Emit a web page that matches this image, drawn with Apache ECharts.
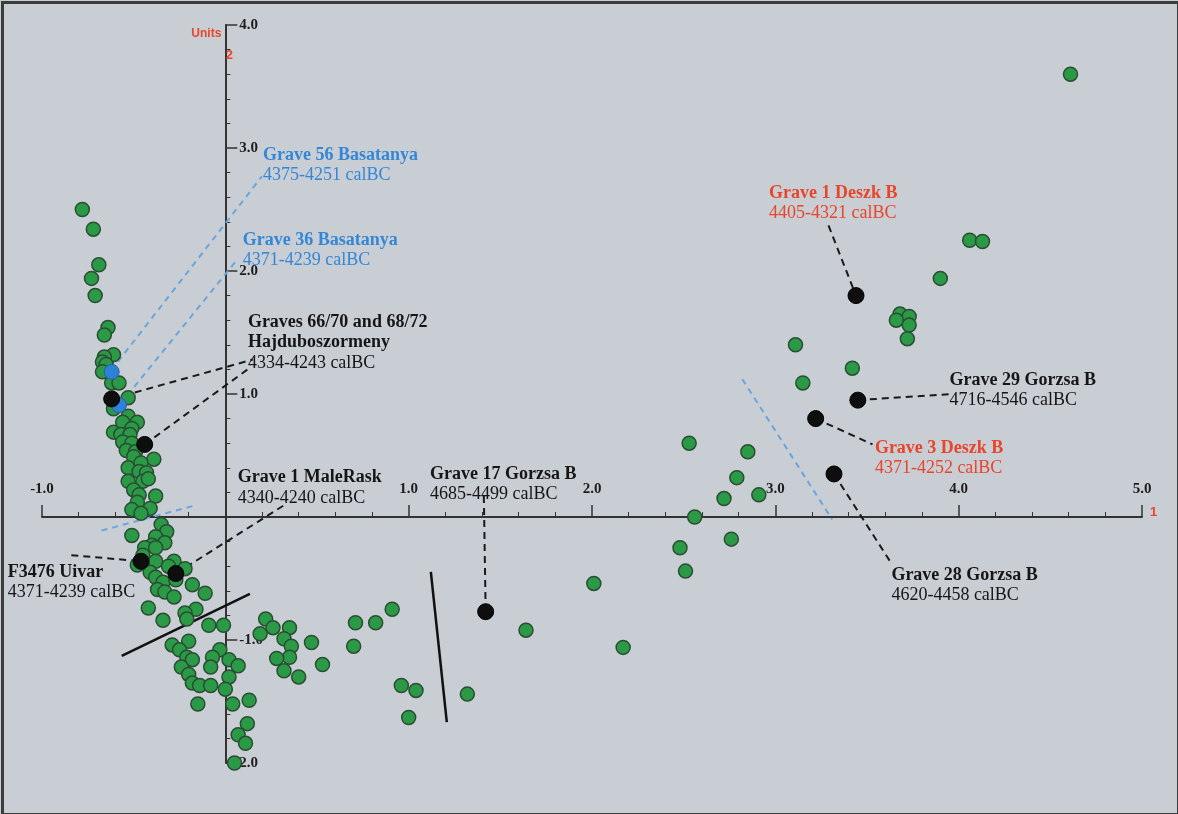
<!DOCTYPE html>
<html>
<head>
<meta charset="utf-8">
<script src="https://cdn.jsdelivr.net/npm/echarts@6/dist/echarts.min.js"></script>
<style>
html,body{margin:0;padding:0;background:#c9cdd4;}
#chart{width:1178px;height:814px;}
</style>
</head>
<body>
<div id="chart"></div>
<script>
// ---- tick labels ----
const xTickValues = [-1, 1, 2, 3, 4, 5];
const xTickLabels = ['-1.0', '1.0', '2.0', '3.0', '4.0', '5.0'];
const yTickValues = [4, 3, 2, 1, -1, -2];
const yTickLabels = ['4.0', '3.0', '2.0', '1.0', '-1.0', '2.0'];
const xAxisName = '1';
const yAxisName = 'Units';
const yAxisNumber = '2';

// ---- points (dimension 1, dimension 2) ----
const greenPoints = [
  [-0.78,2.50],[-0.72,2.34],[-0.69,2.05],[-0.73,1.94],[-0.71,1.80],[-0.64,1.54],[-0.66,1.48],
  [-0.61,1.32],[-0.66,1.30],[-0.67,1.26],[-0.65,1.24],[-0.67,1.18],[-0.62,1.09],[-0.58,1.09],
  [-0.61,0.88],[-0.53,0.97],[-0.53,0.82],[-0.56,0.77],[-0.48,0.77],[-0.61,0.69],[-0.51,0.72],
  [-0.57,0.67],[-0.52,0.67],[-0.56,0.61],[-0.51,0.60],[-0.54,0.54],[-0.49,0.53],[-0.50,0.49],
  [-0.39,0.47],[-0.53,0.40],[-0.46,0.44],[-0.47,0.37],[-0.43,0.36],[-0.53,0.29],[-0.45,0.29],
  [-0.42,0.31],[-0.50,0.22],[-0.47,0.18],[-0.38,0.17],[-0.48,0.12],[-0.41,0.07],[-0.51,0.06],
  [-0.46,0.03],[-0.35,-0.06],[-0.32,-0.12],[-0.51,-0.15],[-0.38,-0.16],[-0.33,-0.21],[-0.40,-0.23],
  [-0.44,-0.25],[-0.38,-0.25],[-0.45,-0.31],[-0.48,-0.39],[-0.38,-0.36],[-0.41,-0.45],[-0.28,-0.36],
  [-0.22,-0.42],[-0.38,-0.49],[-0.31,-0.40],[-0.34,-0.53],[-0.27,-0.51],[-0.18,-0.55],[-0.37,-0.59],
  [-0.33,-0.61],[-0.28,-0.65],[-0.11,-0.62],[-0.42,-0.74],[-0.16,-0.75],[-0.22,-0.78],[-0.34,-0.84],
  [-0.21,-0.83],[-0.09,-0.88],[-0.01,-0.88],[0.22,-0.83],[0.26,-0.90],[0.19,-0.95],[-0.29,-1.04],
  [-0.20,-1.01],[-0.25,-1.08],[-0.21,-1.14],[-0.18,-1.16],[-0.03,-1.08],[-0.07,-1.14],[0.02,-1.16],
  [0.07,-1.21],[-0.24,-1.22],[-0.08,-1.22],[-0.20,-1.28],[0.02,-1.30],[-0.18,-1.35],[-0.14,-1.37],
  [-0.08,-1.37],[0.00,-1.40],[-0.15,-1.52],[0.04,-1.52],[0.13,-1.49],[0.12,-1.68],[0.07,-1.77],
  [0.11,-1.84],[0.05,-2.00],
  [0.35,-0.90],[0.32,-0.99],[0.36,-1.05],[0.35,-1.14],[0.28,-1.15],[0.47,-1.02],[0.32,-1.25],
  [0.40,-1.30],[0.53,-1.20],[0.71,-0.86],[0.82,-0.86],[0.91,-0.75],[0.70,-1.05],[0.96,-1.37],
  [1.04,-1.41],[1.00,-1.63],[1.32,-1.44],
  [1.64,-0.92],[2.01,-0.54],[2.17,-1.06],
  [2.53,0.60],[2.85,0.53],[2.79,0.32],[2.72,0.15],[2.91,0.18],[2.56,0.00],[2.76,-0.18],[2.48,-0.25],
  [2.51,-0.44],[3.11,1.40],[3.15,1.09],[3.42,1.21],[3.68,1.65],[3.73,1.63],[3.66,1.60],[3.73,1.56],
  [3.72,1.45],[3.90,1.94],[4.06,2.25],[4.13,2.24],[4.61,3.60]
];
const bluePoints = [[-0.62,1.18],[-0.58,0.91]];
const blackPoints = [
  [-0.62,0.96],[-0.44,0.59],[-0.46,-0.36],[-0.27,-0.46],[1.42,-0.77],
  [3.44,1.80],[3.45,0.95],[3.22,0.80],[3.32,0.35]
];

// ---- annotation lines (segments in data units) ----
const blackDashedLines = [
  [[-0.62,0.96],[0.15,1.28]],
  [[-0.44,0.59],[0.14,1.22]],
  [[-0.27,-0.46],[0.325,0.10]],
  [[-0.84,-0.31],[-0.46,-0.36]],
  [[1.41,0.17],[1.42,-0.77]],
  [[3.29,2.37],[3.44,1.80]],
  [[3.45,0.95],[3.96,1.00]],
  [[3.22,0.80],[3.53,0.59]],
  [[3.32,0.35],[3.63,-0.37]]
];
const blueDashedLines = [
  [[-0.66,1.12],[0.20,2.77]],
  [[-0.61,0.85],[0.063,2.09]],
  [[-0.675,-0.11],[-0.176,0.09]],
  [[2.82,1.12],[3.31,-0.02]]
];
const solidLines = [
  [[-0.565,-1.13],[0.134,-0.626]],
  [[1.121,-0.447],[1.208,-1.667]]
];

// ---- annotation texts ----
const labelTitles = [
  'Grave 56 Basatanya', 'Grave 36 Basatanya', 'Graves 66/70 and 68/72\nHajduboszormeny',
  'Grave 1 MaleRask', 'Grave 17 Gorzsa B', 'F3476 Uivar', 'Grave 1 Deszk B',
  'Grave 29 Gorzsa B', 'Grave 3 Deszk B', 'Grave 28 Gorzsa B'
];
const labelDates = [
  '4375-4251 calBC', '4371-4239 calBC', '4334-4243 calBC', '4340-4240 calBC', '4685-4499 calBC',
  '4371-4239 calBC', '4405-4321 calBC', '4716-4546 calBC', '4371-4252 calBC', '4620-4458 calBC'
];
const labelGroups = ['blue','blue','black','black','black','black','red','black','red','black'];
const labelAnchors = [
  [0.205,3.02],[0.095,2.33],[0.123,1.66],[0.068,0.40],[1.116,0.43],
  [-1.187,-0.37],[2.965,2.715],[3.95,1.195],[3.543,0.64],[3.633,-0.39]
];

// ---- rendering ----
const colorMap = {black:'#161616', red:'#e8452a', blue:'#3587d6'};
const serif = '"Liberation Serif","Times New Roman",serif';
const sans = '"Liberation Sans",Arial,sans-serif';
const axisColor = '#333333';

const X_MIN = -1, X_MAX = 5, Y_MIN = -2, Y_MAX = 4;
const GRID = {left: 42, top: 25, width: 1100, height: 738};
// place the axes through the origin (shift them inward from the grid edges)
const xAxisOffset = -GRID.height * (0 - Y_MIN) / (Y_MAX - Y_MIN);
const yAxisOffset = -GRID.width * (0 - X_MIN) / (X_MAX - X_MIN);

function tickFormatter(values, labels) {
  return function (v) {
    const i = values.findIndex(t => Math.abs(t - v) < 1e-9);
    return i >= 0 ? labels[i] : '';
  };
}

const series = [];
function addSegments(list, style) {
  list.forEach(seg => {
    series.push({
      type: 'line', data: seg, symbol: 'none', silent: true, animation: false,
      lineStyle: style, z: 2
    });
  });
}
addSegments(blueDashedLines, {color:'#6aa5de', width:2, type:[6,5]});
addSegments(blackDashedLines, {color:'#1a1a1a', width:2, type:[7,5]});
addSegments(solidLines, {color:'#111', width:2.5, type:'solid'});

series.push({
  type:'scatter', data: greenPoints, symbolSize: 14, z: 3,
  itemStyle:{color:'#2a9a47', borderColor:'#2b4d33', borderWidth:1.5, opacity: 1}
});
series.push({
  type:'scatter', data: bluePoints, symbolSize: 15, z: 4,
  itemStyle:{color:'#2c82d8', borderColor:'#2b5f99', borderWidth:1, opacity: 1}
});
series.push({
  type:'scatter', data: blackPoints, symbolSize: 16, z: 5,
  itemStyle:{color:'#0e0e0e', borderColor:'#000', borderWidth:1, opacity: 1}
});

const annData = labelTitles.map((t, i) => {
  const c = colorMap[labelGroups[i]];
  const txt = t.split('\n').map(s => '{t|' + s + '}').join('\n') + '\n{d|' + labelDates[i] + '}';
  return {
    value: labelAnchors[i],
    label: {
      show: true, position: [0, 0], align: 'left', verticalAlign: 'top',
      formatter: txt, color: c,
      rich: {
        t: {fontFamily: serif, fontWeight: 'bold', fontSize: 18, lineHeight: 20, color: c},
        d: {fontFamily: serif, fontWeight: 'normal', fontSize: 18, lineHeight: 20, color: c}
      }
    }
  };
});
annData.push({
  value: [0.022, 3.756],
  label: {show:true, position:[0,0], align:'center', verticalAlign:'middle', formatter: yAxisNumber,
    color:'#e8452a', fontFamily: sans, fontWeight:'bold', fontSize: 13}
});
series.push({
  type:'scatter', data: annData, symbolSize: 0, clip: false, silent: true, z: 6,
  itemStyle: {opacity: 1}
});

const chart = echarts.init(document.getElementById('chart'), null, {renderer:'canvas'});
chart.setOption({
  animation: false,
  backgroundColor: '#c9cdd4',
  grid: Object.assign({containLabel: false}, GRID),
  xAxis: {
    type: 'value', min: X_MIN, max: X_MAX, interval: 1,
    position: 'bottom', offset: xAxisOffset,
    axisLine: {onZero: false, lineStyle: {color: axisColor, width: 2}},
    axisTick: {inside: true, length: 12, lineStyle: {color: axisColor, width: 1.5}},
    minorTick: {show: true, splitNumber: 5, length: 5, lineStyle: {color: axisColor, width: 1}},
    splitLine: {show: false},
    axisLabel: {inside: true, margin: 20, formatter: tickFormatter(xTickValues, xTickLabels),
      fontFamily: serif, fontWeight: 'bold', fontSize: 15, color: '#1e1e1e'},
    name: xAxisName, nameLocation: 'end', nameGap: 8,
    nameTextStyle: {color: '#e8452a', fontFamily: sans, fontWeight: 'bold', fontSize: 13,
      verticalAlign: 'bottom', padding: [0, 0, -2, 0]}
  },
  yAxis: {
    type: 'value', min: Y_MIN, max: Y_MAX, interval: 1,
    position: 'left', offset: yAxisOffset,
    axisLine: {onZero: false, lineStyle: {color: axisColor, width: 2}},
    axisTick: {inside: true, length: 12, lineStyle: {color: axisColor, width: 1.5}},
    minorTick: {show: true, splitNumber: 5, length: 5, lineStyle: {color: axisColor, width: 1}},
    splitLine: {show: false},
    axisLabel: {inside: true, margin: 14, formatter: tickFormatter(yTickValues, yTickLabels),
      fontFamily: serif, fontWeight: 'bold', fontSize: 15, color: '#1e1e1e'},
    name: yAxisName, nameLocation: 'end', nameGap: -3,
    nameTextStyle: {color: '#e8452a', fontFamily: sans, fontWeight: 'bold', fontSize: 12,
      align: 'right', verticalAlign: 'top', padding: [0, 4, 0, 0]}
  },
  graphic: [{
    type: 'rect', left: 0, top: 0, silent: true, z: 100,
    shape: {x: 1, y: 1, width: 1176, height: 812},
    style: {fill: 'none', stroke: '#3c3c3c', lineWidth: 3}
  }],
  series: series
});
</script>
</body>
</html>
